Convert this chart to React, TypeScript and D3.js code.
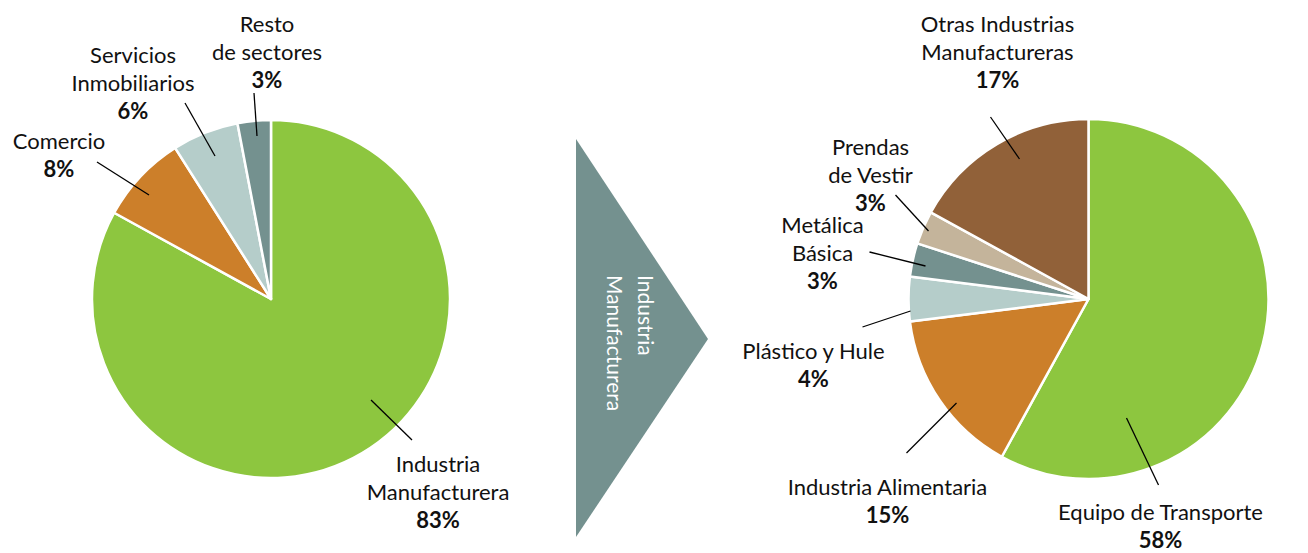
import React from "react";
import * as d3 from "d3";

// ---- Data ----
const leftCategories = ["Industria Manufacturera", "Comercio", "Servicios Inmobiliarios", "Resto de sectores"];
const leftValues = [83, 8, 6, 3];
const leftColors = ["#8dc63f", "#cc7f2a", "#b5cdca", "#74918f"];
const leftLabelLines = [["Industria", "Manufacturera"], ["Comercio"], ["Servicios", "Inmobiliarios"], ["Resto", "de sectores"]];

const rightCategories = ["Equipo de Transporte", "Industria Alimentaria", "Plástico y Hule", "Metálica Básica", "Prendas de Vestir", "Otras Industrias Manufactureras"];
const rightValues = [58, 15, 4, 3, 3, 17];
const rightColors = ["#8dc63f", "#cc7f2a", "#b5cdca", "#74918f", "#c4b49b", "#916139"];
const rightLabelLines = [["Equipo de Transporte"], ["Industria Alimentaria"], ["Plástico y Hule"], ["Metálica", "Básica"], ["Prendas", "de Vestir"], ["Otras Industrias", "Manufactureras"]];

const arrowLabel = ["Industria", "Manufacturera"];

// ---- Layout (label anchors and leader lines, relative to pie centre) ----
type Lay = { tx: number; ty: number; l1: [number, number]; l2: [number, number] };
const leftLayout: Lay[] = [
  { tx: 167, ty: 173, l1: [100, 101], l2: [141, 141] },
  { tx: -212, ty: -150, l1: [-122, -104], l2: [-174, -137] },
  { tx: -138, ty: -236, l1: [-56, -143], l2: [-86, -196] },
  { tx: -4, ty: -267, l1: [-14, -163], l2: [-17, -206] },
];
const rightLayout: Lay[] = [
  { tx: 72, ty: 221, l1: [38, 119], l2: [70, 186] },
  { tx: -201, ty: 196, l1: [-132, 104], l2: [-182, 154] },
  { tx: -275, ty: 60, l1: [-178, 12], l2: [-226, 28] },
  { tx: -266, ty: -66, l1: [-163, -33], l2: [-219, -47] },
  { tx: -218, ty: -144, l1: [-160, -68], l2: [-193, -104] },
  { tx: -91, ty: -267, l1: [-69, -140], l2: [-98, -182] },
];

const FONT = "Lato, 'Open Sans', sans-serif";
const FS = 22;
const LH = 28;

function Pie({ cx, cy, r, values, colors, lines, layout }: { cx: number; cy: number; r: number; values: number[]; colors: string[]; lines: string[][]; layout: Lay[] }) {
  const arcs = d3.pie<number>().sort(null).value((d) => d)(values);
  const arcGen = d3.arc<d3.PieArcDatum<number>>().innerRadius(0).outerRadius(r);
  const total = d3.sum(values);
  return (
    <g transform={`translate(${cx},${cy})`}>
      {arcs.map((a, i) => (
        <path key={i} d={arcGen(a) || ""} fill={colors[i]} stroke="#ffffff" strokeWidth={2.5} strokeLinejoin="round" />
      ))}
      {arcs.map((a, i) => {
        const lay = layout[i];
        const ls = lines[i];
        const pct = Math.round((values[i] / total) * 100) + "%";
        return (
          <g key={"l" + i}>
            <line x1={lay.l1[0]} y1={lay.l1[1]} x2={lay.l2[0]} y2={lay.l2[1]} stroke="#000" strokeWidth={1.3} />
            <text x={lay.tx} y={lay.ty} textAnchor="middle" fontFamily={FONT} fontSize={FS} fill="#111">
              {ls.map((s, j) => (
                <tspan key={j} x={lay.tx} y={lay.ty + j * LH}>{s}</tspan>
              ))}
              <tspan x={lay.tx} y={lay.ty + ls.length * LH} fontWeight="bold">{pct}</tspan>
            </text>
          </g>
        );
      })}
    </g>
  );
}

export default function App() {
  const W = 1308, H = 553;
  return (
    <svg width={W} height={H} style={{ position: "absolute", left: 0, top: 0, background: "#fff" }}>
      <Pie cx={271} cy={299} r={179} values={leftValues} colors={leftColors} lines={leftLabelLines} layout={leftLayout} />
      <Pie cx={1088.5} cy={299} r={180} values={rightValues} colors={rightColors} lines={rightLabelLines} layout={rightLayout} />
      <polygon points="576,139 576,537 708,339" fill="#74918f" />
      <text transform="translate(638,275) rotate(90)" fontFamily={FONT} fontSize={21} fill="#ffffff">
        {arrowLabel.map((s, j) => (
          <tspan key={j} x={0} y={j * 31}>{s}</tspan>
        ))}
      </text>
    </svg>
  );
}
